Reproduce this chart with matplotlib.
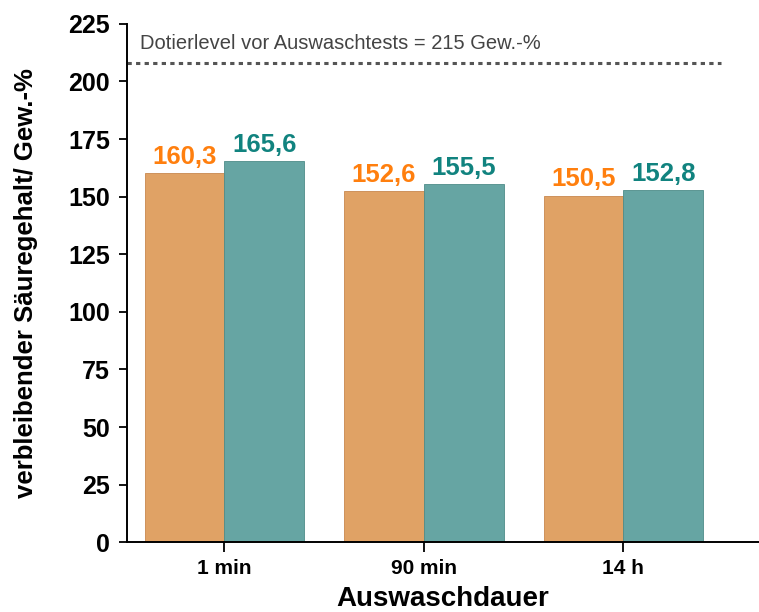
import numpy as np
import matplotlib
matplotlib.use("Agg")
import matplotlib.pyplot as plt

plt.rcParams['font.family'] = ['Liberation Sans', 'DejaVu Sans']

categories = ['1 min', '90 min', '14 h']
series_a = [160.3, 152.6, 150.5]
series_b = [165.6, 155.5, 152.8]
labels_a = ['160,3', '152,6', '150,5']
labels_b = ['165,6', '155,5', '152,8']
ref_level = 208
ref_text = 'Dotierlevel vor Auswaschtests = 215 Gew.-%'
yticks = [0, 25, 50, 75, 100, 125, 150, 175, 200, 225]

col_a = '#E0A265'
col_b = '#66A5A3'
txt_a = '#FF7F0E'
txt_b = '#11837F'

fig = plt.figure(figsize=(7.59, 6.12), dpi=100)
ax = fig.add_axes([0.167, 0.114, 0.833, 0.847])

x = np.arange(len(categories))
w = 0.4
ax.bar(x - w / 2, series_a, w, color=col_a, edgecolor='#C8884E', linewidth=0.6, zorder=2)
ax.bar(x + w / 2, series_b, w, color=col_b, edgecolor='#4E8C89', linewidth=0.6, zorder=2)

box = dict(facecolor='white', edgecolor='none', pad=0.5)
for xi, v, s in zip(x, series_a, labels_a):
    ax.text(xi - w / 2, v + 1.8, s, ha='center', va='bottom', fontsize=18.5,
            fontweight='bold', color=txt_a, bbox=box, zorder=3)
for xi, v, s in zip(x, series_b, labels_b):
    ax.text(xi + w / 2, v + 1.8, s, ha='center', va='bottom', fontsize=18.5,
            fontweight='bold', color=txt_b, bbox=box, zorder=3)

ax.axhline(ref_level, xmin=0.0, xmax=0.94, color='#555555', linestyle=(0, (1.4, 1.4)),
           linewidth=2.2, zorder=1)
ax.text(0.021, 216.5, ref_text, ha='left', va='center', fontsize=14.5, color='#444444',
        transform=ax.get_yaxis_transform())

ax.set_xlim(-0.49, 2.68)
ax.set_ylim(0, 225)
ax.set_yticks(yticks)
ax.set_xticks(x)
ax.set_xticklabels(categories)

for side in ['top', 'right']:
    ax.spines[side].set_visible(False)
ax.spines['left'].set_linewidth(1.4)
ax.spines['bottom'].set_linewidth(1.4)

ax.tick_params(axis='y', length=6, width=1.3, labelsize=18, pad=6)
ax.tick_params(axis='x', length=7, width=1.3, labelsize=15, pad=5)
for t in ax.get_yticklabels() + ax.get_xticklabels():
    t.set_fontweight('bold')

ax.set_ylabel('verbleibender Säuregehalt/ Gew.-%', fontsize=18.5, fontweight='bold', labelpad=22)
ax.set_xlabel('Auswaschdauer', fontsize=20, fontweight='bold', labelpad=6)

fig.savefig('out.png', dpi=100)
